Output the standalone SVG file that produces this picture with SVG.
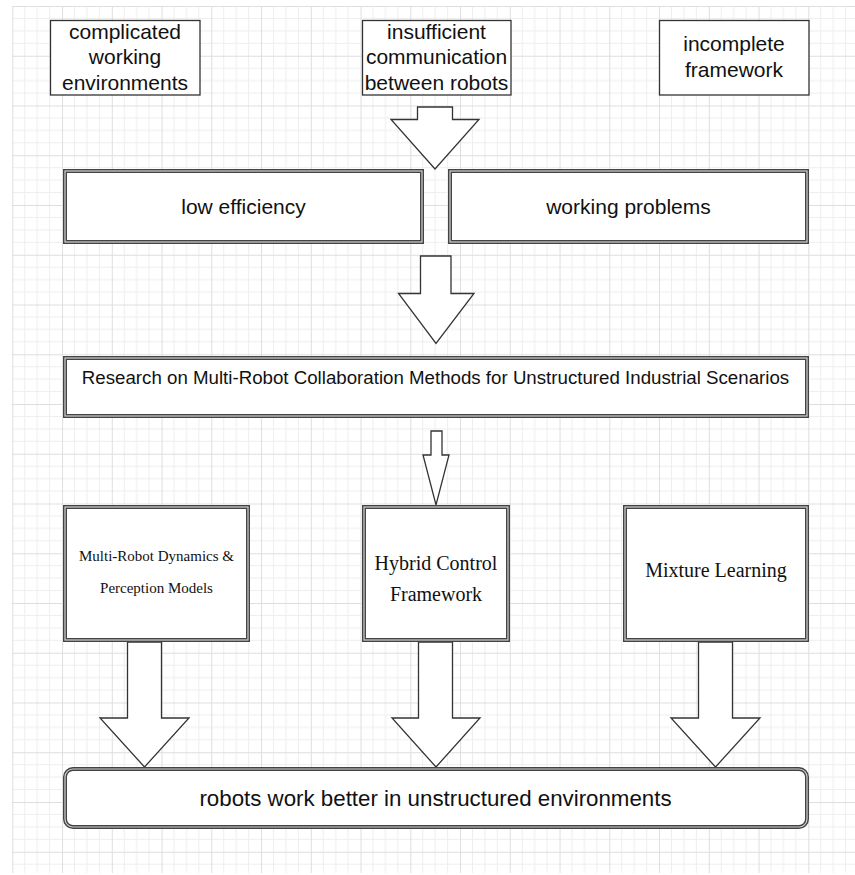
<svg xmlns="http://www.w3.org/2000/svg" width="855" height="875" viewBox="0 0 855 875">
<defs>
<pattern id="grid" patternUnits="userSpaceOnUse" x="12.3" y="6" width="49.75" height="49.75">
<path d="M12.44 0V49.75M24.875 0V49.75M37.31 0V49.75M0 12.44H49.75M0 24.875H49.75M0 37.31H49.75" stroke="#eeeeee" stroke-width="1" fill="none"/>
<path d="M0.5 0V49.75M0 0.5H49.75" stroke="#dedede" stroke-width="1" fill="none"/>
</pattern>
</defs>
<style>
.single{fill:#fff;stroke:#333;stroke-width:1.3}
.dbl{fill:#fff;stroke:#444;stroke-width:4}
.dbl2{fill:none;stroke:#d0d0d0;stroke-width:1.2}
.arrow{fill:#fff;stroke:#333;stroke-width:1.3;stroke-linejoin:miter}
.sans{font-family:"Liberation Sans",Arial,sans-serif;fill:#111;text-anchor:middle}
.serif{font-family:"Liberation Serif","Times New Roman",serif;fill:#111;text-anchor:middle}
</style>
<rect x="0" y="0" width="855" height="875" fill="#fff"/>
<rect x="12" y="6" width="843" height="867" fill="url(#grid)"/>

<g id="connectors">
<path class="arrow" d="M417.5 107H452.5V119.5H479L435 169L391 119.5H417.5Z"/>
<path class="arrow" d="M420.5 256H451V293.5H474L436 343.5L398.5 293.5H420.5Z"/>
<path class="arrow" d="M431 431H442V455H449L436 505L423 455H431Z"/>
<path class="arrow" d="M127.5 642H161.5V718H189L144.5 767L100 718H127.5Z"/>
<path class="arrow" d="M418.5 642H452.5V718H480L436 767L392 718H418.5Z"/>
<path class="arrow" d="M698.5 642H732.5V718H760L715.5 767L671 718H698.5Z"/>
</g>

<g id="n-complicated">
<rect class="single" x="50.5" y="20.5" width="149.5" height="74.5"/>
<text class="sans" font-size="21" x="125" y="38.5">complicated</text>
<text class="sans" font-size="21" x="125" y="64">working</text>
<text class="sans" font-size="21" x="125" y="89.5">environments</text>
</g>
<g id="n-insufficient">
<rect class="single" x="362.5" y="20.5" width="148.5" height="74.5"/>
<text class="sans" font-size="21" x="436.5" y="38.5">insufficient</text>
<text class="sans" font-size="21" x="436.5" y="64">communication</text>
<text class="sans" font-size="21" x="436.5" y="89.5">between robots</text>
</g>
<g id="n-incomplete">
<rect class="single" x="659.5" y="20.5" width="149.5" height="74.5"/>
<text class="sans" font-size="21" x="734" y="51">incomplete</text>
<text class="sans" font-size="21" x="734" y="76.5">framework</text>
</g>

<g id="n-low">
<rect class="dbl" x="65" y="171" width="357" height="71"/>
<rect class="dbl2" x="65" y="171" width="357" height="71"/>
<text class="sans" font-size="21" x="243.5" y="213.5">low efficiency</text>
</g>
<g id="n-working">
<rect class="dbl" x="450" y="171" width="357" height="71"/>
<rect class="dbl2" x="450" y="171" width="357" height="71"/>
<text class="sans" font-size="21" x="628.5" y="213.5">working problems</text>
</g>

<g id="n-research">
<rect class="dbl" x="65" y="358" width="742" height="58"/>
<rect class="dbl2" x="65" y="358" width="742" height="58"/>
<text class="sans" font-size="18.7" x="435.5" y="384">Research on Multi-Robot Collaboration Methods for Unstructured Industrial Scenarios</text>
</g>

<g id="n-dynamics">
<rect class="dbl" x="65" y="507" width="183" height="133"/>
<rect class="dbl2" x="65" y="507" width="183" height="133"/>
<text class="serif" font-size="15" x="156.5" y="560.7">Multi-Robot Dynamics &amp;</text>
<text class="serif" font-size="15" x="156.5" y="593.3">Perception Models</text>
</g>
<g id="n-hybrid">
<rect class="dbl" x="364" y="507" width="144" height="133"/>
<rect class="dbl2" x="364" y="507" width="144" height="133"/>
<text class="serif" font-size="20" x="436" y="570">Hybrid Control</text>
<text class="serif" font-size="20" x="436" y="600.7">Framework</text>
</g>
<g id="n-mixture">
<rect class="dbl" x="625" y="507" width="182" height="133"/>
<rect class="dbl2" x="625" y="507" width="182" height="133"/>
<text class="serif" font-size="20" x="716" y="577">Mixture Learning</text>
</g>

<g id="n-result">
<rect class="dbl" x="65" y="769" width="742" height="58" rx="8"/>
<rect class="dbl2" x="65" y="769" width="742" height="58" rx="8"/>
<text class="sans" font-size="22.3" x="435.5" y="806">robots work better in unstructured environments</text>
</g>
</svg>
